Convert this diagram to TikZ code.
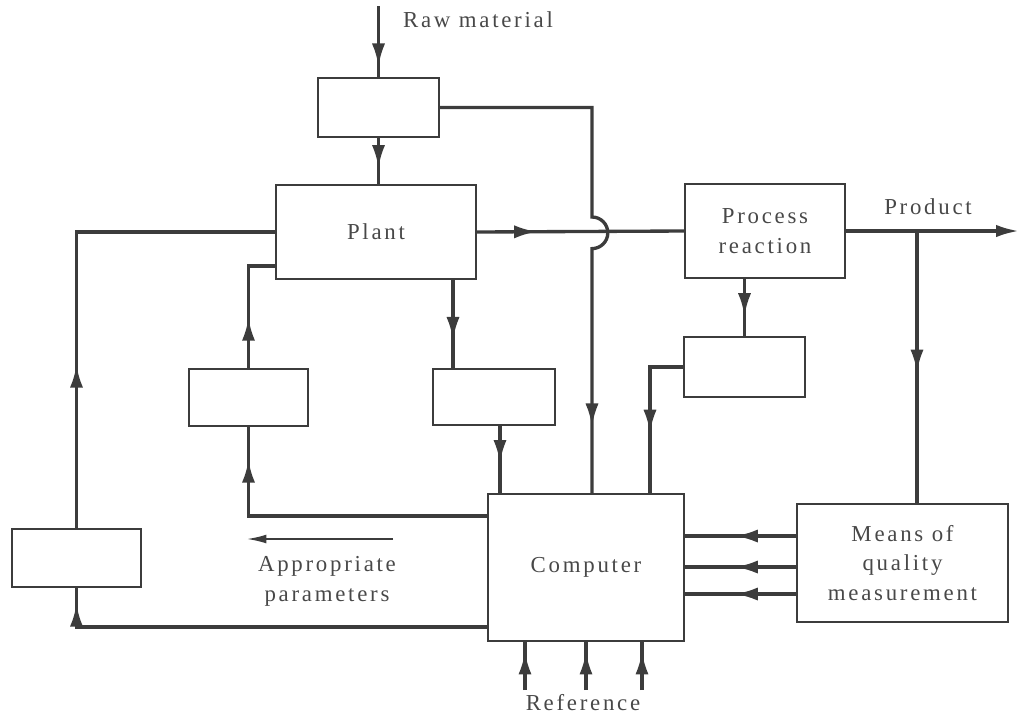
\documentclass[tikz,border=0pt]{standalone}
\usepackage{fontspec}
\setmainfont{Liberation Serif}[LetterSpace=12]
\usepackage{tikz}
\usetikzlibrary{arrows.meta,decorations.markings}
\definecolor{ink}{HTML}{3C3C3C}
\definecolor{txt}{HTML}{484848}

\begin{document}
\begin{tikzpicture}[x=0.02cm, y=-0.02cm,
  blk/.style={draw=ink, line width=1.2pt, inner sep=0pt, font=\fontsize{13}{17}\selectfont, text=txt, align=center},
  lbl/.style={font=\fontsize{13}{17}\selectfont, text=txt, align=center},
  wire/.style={draw=ink, line width=1.9pt},
  arr/.style={postaction={decorate, decoration={markings, mark=at position #1 with {\arrow[ink]{Latex[length=13pt,width=7.5pt]}}}}}]
\useasboundingbox (0,0) rectangle (1021,714);
% blocks
\node[blk, minimum width=2.42cm, minimum height=1.18cm] (feed) at (378.5,107.5) {};
\node[blk, minimum width=4cm, minimum height=1.88cm] (plant) at (376,232) {Plant};
\node[blk, minimum width=3.2cm, minimum height=1.88cm] (proc) at (765,231) {Process\\reaction};
\node[blk, minimum width=2.42cm, minimum height=1.2cm] (sens) at (744.5,367) {};
\node[blk, minimum width=2.38cm, minimum height=1.14cm] (actA) at (248.5,397.5) {};
\node[blk, minimum width=2.44cm, minimum height=1.12cm] (meter) at (494,397) {};
\node[blk, minimum width=2.58cm, minimum height=1.16cm] (actB) at (76.5,558) {};
\node[blk, minimum width=3.92cm, minimum height=2.94cm] (comp) at (586,567.5) {Computer};
\node[blk, minimum width=4.22cm, minimum height=2.36cm] (qual) at (902.5,563) {Means of\\quality\\measurement};
% labels
\node[lbl] at (478,20) {Raw material};
\node[lbl] at (928,207) {Product};
\node[lbl] (param) at (327,581) {Appropriate\\parameters};
\node[lbl] (ref) at (583,703) {Reference};
\coordinate (raw) at (378.5,6);
\coordinate (prod) at (1019,231);
\coordinate (pa) at (393,539);
\coordinate (pb) at (247,539);
% main flow
\draw[wire, arr=0.85] (raw) -- (feed.north);
\draw[wire, arr=0.65] (feed.south) -- (feed.south |- plant.north);
\draw[wire, arr=0.29] (plant.east) -- (proc.west);
\draw[wire, -{Latex[length=13pt,width=7pt]}] (proc.east) -- (prod);
\draw[wire, arr=0.88] (feed.east) -| (592,217) arc[start angle=90, end angle=-90, radius=9pt] -- (comp.north -| 592,0);
\draw[wire, arr=0.52] (proc.east -| 917,0) -- (qual.north -| 917,0);
\draw[wire, arr=0.65] (proc.south -| sens.north) -- (sens.north);
\draw[wire, arr=0.62] (sens.west) -| (comp.north -| 650,0);
\draw[wire, arr=0.68] (plant.south -| 453,0) -- (meter.north -| 453,0);
\draw[wire, arr=0.55] (meter.south -| 500,0) -- (comp.north -| 500,0);
% feedback to plant
\draw[wire, arr=0.9] (comp.west |- 0,516) -| (actA.south);
\draw[wire, arr=0.39] (actA.north) |- (plant.west |- 0,266);
\draw[wire, arr=0.965] (comp.west |- 0,627) -| (actB.south);
\draw[wire, arr=0.33] (actB.north) |- (plant.west);
\draw[ink, line width=0.9pt, -{Latex[length=11pt,width=5pt]}] (pa) -- (pb);
% measurements and references
\foreach \y in {536,567,594}
  \draw[wire, arr=0.55] (qual.west |- 0,\y) -- (comp.east |- 0,\y);
\foreach \x [count=\i] in {525,586,642} {
  \coordinate (ref\i) at (\x,690);
  \draw[wire, arr=0.8] (ref\i) -- (comp.south -| \x,0);
}
\end{tikzpicture}
\end{document}
